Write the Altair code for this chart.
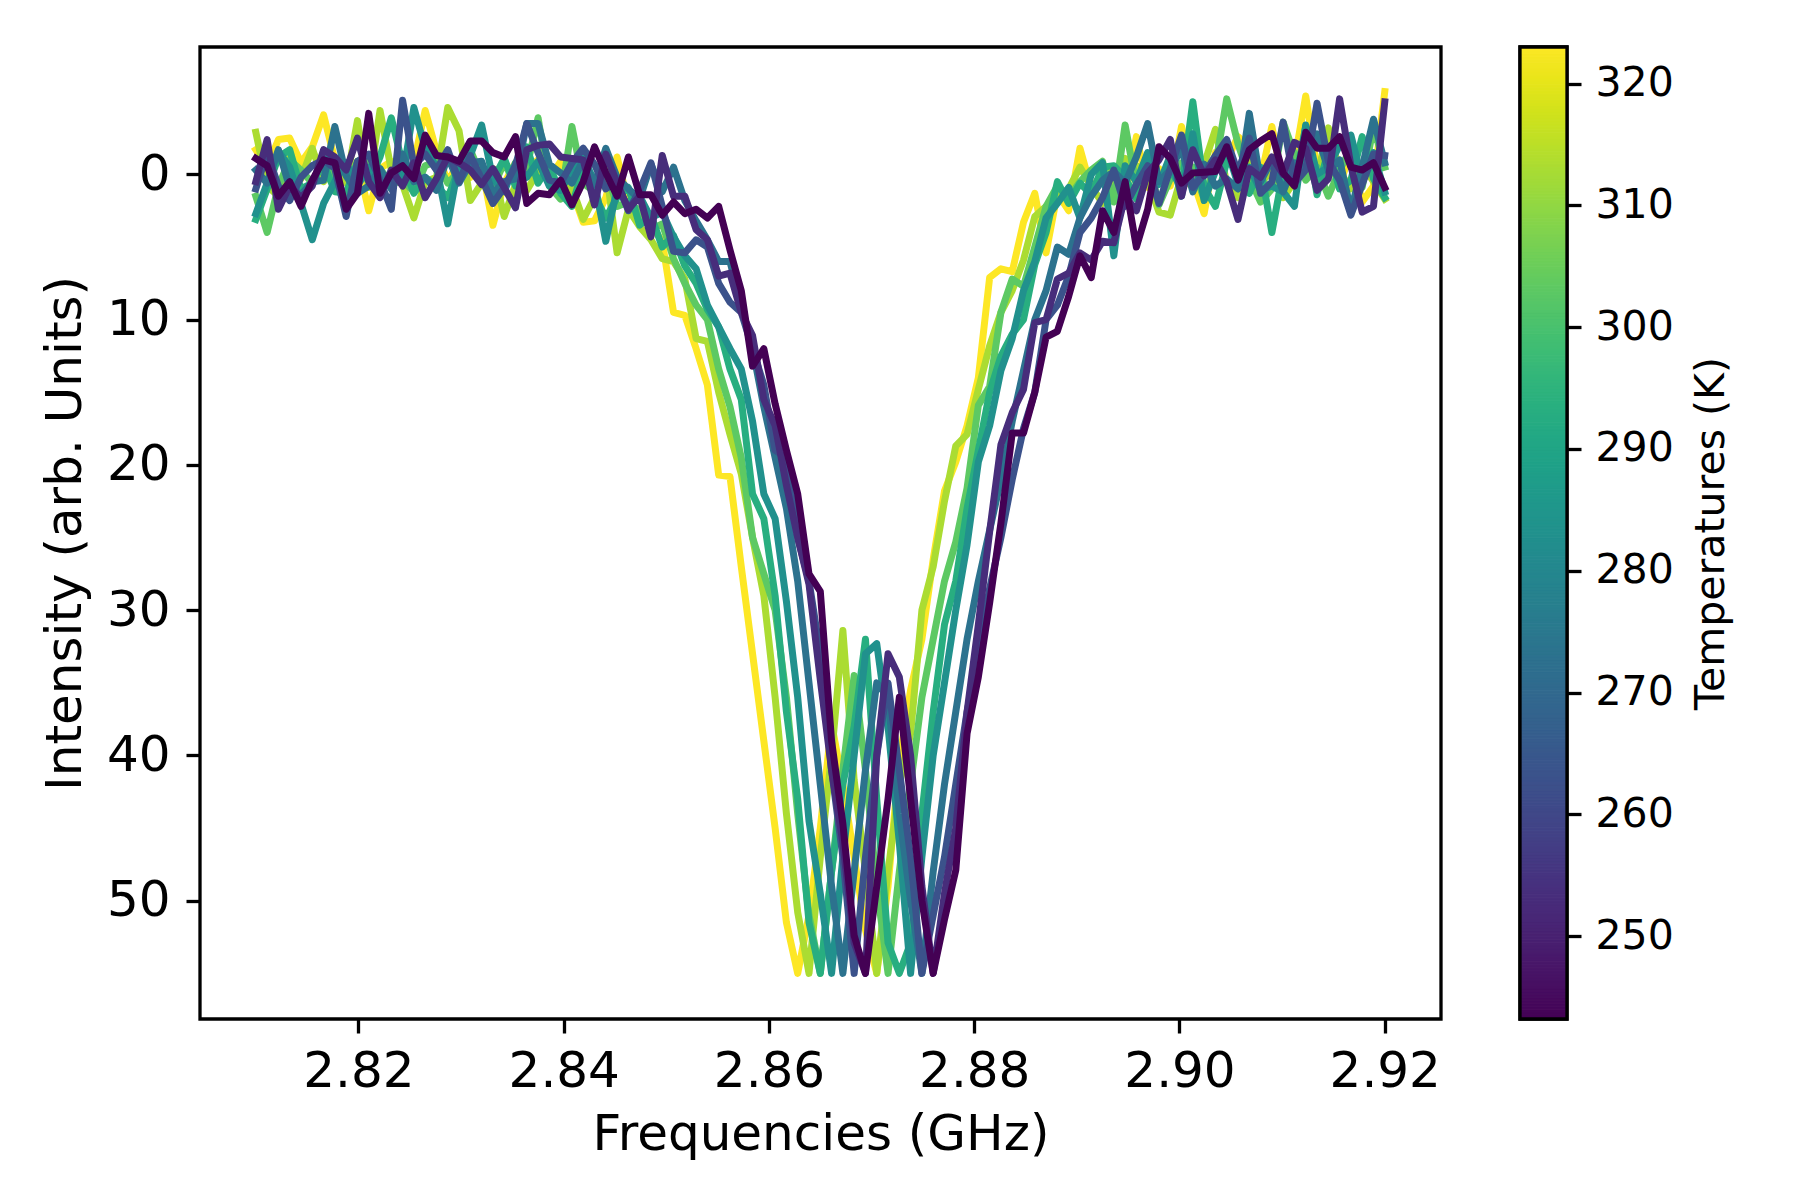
import altair as alt
import pandas as pd

frequencies = [
    2.81, 2.8111, 2.8122, 2.8133, 2.8144, 2.8155, 2.8166, 2.8177, 2.8188, 2.8199,
    2.821, 2.8221, 2.8232, 2.8243, 2.8254, 2.8265, 2.8276, 2.8287, 2.8298, 2.8309,
    2.832, 2.8331, 2.8342, 2.8353, 2.8364, 2.8375, 2.8386, 2.8397, 2.8408, 2.8419,
    2.843, 2.8441, 2.8452, 2.8463, 2.8474, 2.8485, 2.8496, 2.8507, 2.8518, 2.8529,
    2.854, 2.8551, 2.8562, 2.8573, 2.8584, 2.8595, 2.8606, 2.8617, 2.8628, 2.8639,
    2.865, 2.8661, 2.8672, 2.8683, 2.8694, 2.8705, 2.8716, 2.8727, 2.8738, 2.8749,
    2.876, 2.8771, 2.8782, 2.8793, 2.8804, 2.8815, 2.8826, 2.8837, 2.8848, 2.8859,
    2.887, 2.8881, 2.8892, 2.8903, 2.8914, 2.8925, 2.8936, 2.8947, 2.8958, 2.8969,
    2.898, 2.8991, 2.9002, 2.9013, 2.9024, 2.9035, 2.9046, 2.9057, 2.9068, 2.9079,
    2.909, 2.9101, 2.9112, 2.9123, 2.9134, 2.9145, 2.9156, 2.9167, 2.9178, 2.9189,
    2.92,
]

# one trace per temperature, drawn hottest first
t323 = [
    -1.7, -0.5, -2.4, -2.5, -0.8, -1.9, -4.1, -1, 0.5, -0.9,
    2.5, -0.4, -0.9, 0.3, -0.8, -4.4, -1.6, 0.5, -0.9, 0.2,
    -0.6, 3.5, 0.6, -0.8, -0.4, -1, 0.3, -0.9, 1.1, 3.3,
    3.2, 1.6, -1.2, 2, 2.7, 3.5, 4.6, 9.5, 9.7, 12,
    14.5, 20.7, 20.8, 27, 33, 39, 45, 51.5, 55, 51,
    45, 37.8, 42, 47, 52, 55, 49, 40.3, 35.5, 32,
    26.5, 21.8, 19.8, 17.3, 14, 7.1, 6.5, 6.7, 3.3, 1.3,
    5.4, 1.3, 2.5, -1.8, 1, -0.1, -0.5, 1.6, -2.6, 0.9,
    -0.4, 0.8, -3.3, 0.4, 2.7, -1.5, -1, -2.6, -1.9, 0.3,
    -3.3, 0.7, -0.9, -5.4, -0.4, -1, 0.7, -1.5, 1.9, 0.8,
    -5.7,
]
t313 = [
    -2.9, 0.8, 1.5, -1.3, 0.3, -1.8, 0.5, -0.6, 0.6, -3.7,
    0.9, -4.4, -0.3, 0.7, 3, 0.5, 0.2, -4.6, -3, 1.8,
    0.6, -0.4, 2.9, 0.7, 1.1, -0.2, 0.4, 0.8, 0.9, 3.1,
    1.6, -0.5, 5.4, 2.4, 3.6, 4.5, 5.8, 6, 7.2, 11.3,
    11.5, 15, 17.9, 20.6, 25, 29, 36, 44, 50.8, 55,
    47, 40, 31.4, 41.7, 48, 55, 48, 42, 38.5, 30,
    27, 22.5, 18.7, 17.9, 14.8, 11.8, 9.5, 8, 5.9, 2.9,
    2.2, 1.5, 1, -0.5, 0.8, 2, 0.1, -1.1, -0.6, 0.4,
    2.6, 2.8, 0.1, 0.9, -0.7, -3.1, 0.6, 1.6, -1, 0.7,
    -0.4, 1.6, 0.5, -0.6, 0.2, -3.2, -0.2, 1, -0.7, 0.5,
    1.7,
]
t303 = [
    1.5, 4, 0.8, -1, -0.3, 0.6, -1.1, 0.9, 1.6, 0.3,
    -1.1, -0.4, 0.7, 0.4, 1.2, -0.6, -0.9, 0.6, -0.2, -1.7,
    0.2, 0.9, -0.8, 0.7, -0.5, -3.9, 0.8, 1.7, -3.3, 0.6,
    1.2, -0.4, 2.2, 1.9, 2.5, 3.8, 3.4, 5.8, 7.5, 9,
    10, 13.4, 16, 19.5, 25, 27.5, 30, 36, 44, 51,
    55, 48, 41, 34.5, 41, 49, 55, 48, 42, 36,
    32, 28, 25.3, 21.6, 15.9, 14.6, 9.5, 7.2, 7.7, 5,
    2.2, 0.8, 1.6, 0.5, -0.3, -0.9, 1.9, -3.4, 0.8, -1.1,
    2.1, 0.3, -0.8, -0.5, 1.7, -0.6, -5.2, -2.1, 0.2, 1.9,
    1, -3.6, -1.4, 0.4, -0.5, 1.5, -0.3, -1.8, 0.9, -3.3,
    -0.5,
]
t293 = [
    3.1, 1, -1.2, -1.7, 1, 0.6, -0.8, 1.2, 1.3, -0.9,
    0.5, -1.2, -3.9, -0.7, 1.3, 0.2, 0.8, 1.6, -0.4, -1,
    -0.2, 0.4, -1.1, 0.8, -1.9, 0.6, -0.6, 1.3, 2.2, -0.5,
    1.4, 3, 1.6, 0.9, 3.5, 2.8, 5, 4.2, 6.3, 7.5,
    9.3, 10.5, 13.4, 15.5, 22, 23.7, 29, 37, 43, 51.5,
    55, 48, 42, 38, 32, 43, 52.9, 55, 52.9, 44,
    37, 31, 28, 23, 19, 15, 12.5, 11, 10, 6.2,
    4, 0.5, 2, 0.6, 1.4, -0.5, -0.6, 0.2, 1.7, -0.9,
    0.5, -0.3, 0.9, -5, 0.9, 2.2, -0.9, -0.3, 1.3, -0.5,
    4, -0.2, 0.7, -3.3, 1.4, -1.7, 1, 0.4, -2.6, 0.3,
    1.6,
]
t283 = [
    2.7, 0.6, -1.6, -0.5, 2, 4.5, 2, 0.5, -0.8, 0.8,
    -0.5, 1, -0.2, 0.2, -4.6, -1.8, -0.5, 3.4, -0.8, -1.3,
    -3.4, 0.3, 1.2, -0.8, 0.2, -0.9, 0.8, 1.1, -0.3, -1.2,
    0.5, 4.6, 1, 2.2, 1.5, 3, 2.6, 4.3, 5.6, 6.5,
    9, 10.5, 12, 13.4, 17, 22, 23.7, 29.4, 36, 44.5,
    49.5, 55, 47, 40, 33, 32.3, 38, 46, 55, 47,
    40, 35, 30, 25.5, 19.8, 17.3, 13.5, 11.3, 8, 6,
    3, 2, 0.9, 3, 0, -0.8, 5.6, -0.6, 0.5, -1.5,
    0.7, -1.3, 1.5, -2.8, 1.8, -0.2, -1.8, 0.7, -0.5, 1.1,
    0.8, 1.2, 2.2, -3.4, 0, -0.5, -2, -2.7, 0.4, -1.5,
    1.2,
]
t273 = [
    -0.3, 0.6, -1.7, 0.9, 1.4, 0.5, 0.4, -3.3, 0.1, 1.3,
    0.8, -0.4, 1, -1.4, 0.5, 0.2, 1.1, -1.2, 0.6, -0.8,
    -0.9, 1.3, 0.5, 0.3, -3.5, -3.5, -0.7, -0.1, 0.6, -1,
    0.7, -1.8, 0.2, 1, 1.7, -0.7, 1.2, -0.5, 1.8, 3.2,
    4.5, 6, 6, 9, 12, 16, 19.5, 23, 28, 35,
    42, 49, 55, 48, 41, 35, 36, 44, 50, 55,
    48, 42, 37, 32, 28, 24.5, 21, 17, 13.5, 10,
    8, 5, 5.5, 3, 1.5, 0.4, -0.2, 0.6, -1.2, -3.5,
    0.5, -0.3, -1.8, 1.2, -0.7, 0.8, 0.3, 1, -4.2, 0.5,
    -1, 1.2, -0.8, -0.4, -2.8, -0.3, -1, 2.5, -0.5, -3.8,
    -0.8,
]
t263 = [
    1, -1.5, 0.8, 1.8, 0.2, -0.6, -1, -0.4, 2.9, -0.9,
    -1.4, 0.4, 2.4, -5.1, -0.6, -1.4, -0.3, -1.7, 0.5, -1.3,
    0.3, 2, 0.9, -0.6, -3.5, -1.5, 0.4, 0.6, -0.8, -1.8,
    -0.7, 1, 0.5, 2.5, 1.1, -0.8, 2.2, 5.3, 5.4, 4.5,
    5, 7.5, 8.8, 9.5, 12, 14.5, 19, 19.5, 25, 28,
    33, 41, 47, 55, 47, 40, 35, 41, 47, 55,
    51, 47, 42, 37, 33, 28.5, 25, 21, 17.5, 15,
    10, 9, 7, 4, 3, 1.6, -0.3, 2.2, 0.7, -0.6,
    2, -0.4, -2.7, 0.9, 0, -1.3, -2.4, -0.1, -2.5, 1.3,
    0.5, -3.6, 0.6, -0.3, -4.9, -0.9, 0.4, 2.8, 0.7, -1.4,
    -1.3,
]
t253 = [
    0.5, -2.4, 2.4, 0.8, 1.6, 0.8, -1.7, -1.2, -0.3, -2.5,
    0.5, 1.6, -0.3, 0.8, -0.8, 1.6, 0.3, -1.2, -0.8, -0.3,
    0.7, -0.4, 0.9, 2.3, -1.7, -2, -2.1, -1.2, -1.1, -1,
    2.1, -1.4, 0.6, 2.4, 1.5, 4.3, -1.3, 1.5, 1.5, 3.8,
    4.5, 7, 6.8, 9.5, 11.1, 15.5, 17.3, 21.4, 25, 28.2,
    34.8, 41, 46, 52.9, 55, 40, 33, 34.6, 40, 49,
    55, 49.5, 45, 37, 31, 24.6, 18.6, 16.4, 14.8, 10.2,
    10, 7.2, 6.8, 5.4, 5.9, 4.6, 4.7, 1.5, 2.5, -0.1,
    -1, -2.4, 1.5, -1.7, 0.1, -1, 0.5, 3.1, -0.4, 0.2,
    -1.2, 0, -2.2, -1.8, 1.1, 0.3, -5.2, -0.6, 2.6, 2.2,
    -5,
]
t243 = [
    -1.1, -0.6, 1.5, 0.5, 2.2, 0.4, -1, -0.8, 2.4, 1.3,
    -4.2, 1.3, -0.1, -0.6, 0.3, -2.7, -1.3, -1.2, -0.9, -2.3,
    -2.3, -1.5, -1.2, -2.6, 2, 1.3, 1.4, 0.4, 2.1, 0.5,
    -1.9, -0.1, 1.5, -1.2, 1.4, 1.4, 2.8, 1.9, 2.7, 2.4,
    3, 2.2, 5.2, 8, 13.2, 12, 15.8, 19, 22, 27.5,
    28.7, 39, 44.7, 52.4, 55, 49, 43, 36, 43, 50,
    55, 51.3, 47.9, 38.5, 34.6, 29.5, 24, 17.8, 17.8, 15,
    11.2, 10.8, 8.4, 5.6, 7.1, 2.5, 4, 0.5, 5, 2.4,
    -1.9, -1.1, 0.6, -0.1, -0.15, -0.2, -1.9, 0.4, -1.7, -2.3,
    -2.8, -0.1, 0.8, -2.9, -1.8, -1.8, -2.6, -0.5, -0.3, -0.8,
    0.9,
]

traces = {323: t323, 313: t313, 303: t303, 293: t293, 283: t283,
          273: t273, 263: t263, 253: t253, 243: t243}
x_ticks = [2.82, 2.84, 2.86, 2.88, 2.90, 2.92]
y_ticks = [0, 10, 20, 30, 40, 50]
bar_ticks = [250, 260, 270, 280, 290, 300, 310, 320]

rows = []
for temp, values in traces.items():
    for f, v in zip(frequencies, values):
        rows.append({"frequency": f, "intensity": v, "temperature": temp})
df = pd.DataFrame(rows)

color_scale = alt.Scale(scheme="viridis", domain=[243, 323])

lines = alt.Chart(df).mark_line(
    strokeWidth=7, strokeJoin="round", strokeCap="square", clip=True
).encode(
    x=alt.X(
        "frequency:Q",
        scale=alt.Scale(domain=[2.80456, 2.92548], nice=False, zero=False),
        axis=alt.Axis(
            title="Frequencies (GHz)", values=x_ticks, format=".2f",
            labelPadding=13, titlePadding=13,
        ),
    ),
    y=alt.Y(
        "intensity:Q",
        scale=alt.Scale(domain=[-8.77, 58.14], reverse=True, nice=False, zero=False),
        axis=alt.Axis(
            title="Intensity (arb. Units)", values=y_ticks,
            labelPadding=16, titlePadding=16,
        ),
    ),
    color=alt.Color("temperature:Q", scale=color_scale, legend=None),
    detail="temperature:Q",
).properties(width=1241, height=972)

# colour bar as its own panel so that it gets real ticks
bar_df = pd.DataFrame({"level": [243.2 + i * 0.25 for i in range(319)]})
bar_df["top"] = bar_df["level"] + 0.25

ramp = alt.Chart(bar_df).mark_rect(strokeWidth=1, clip=True).encode(
    x=alt.value(0),
    x2=alt.value(47),
    y=alt.Y(
        "level:Q",
        scale=alt.Scale(domain=[243.2, 323], nice=False, zero=False),
        axis=alt.Axis(
            orient="right", title="Temperatures (K)", values=bar_ticks,
            labelFontSize=41, titleFontSize=41, labelPadding=14, titlePadding=18,
            titleAngle=270, titleBaseline="top",
        ),
    ),
    y2="top:Q",
    color=alt.Color("level:Q", scale=color_scale, legend=None),
    stroke=alt.Color("level:Q", scale=color_scale, legend=None),
)

# black outline over the ramp
outline = alt.Chart(pd.DataFrame({"a": [0]})).mark_rect(
    fillOpacity=0, stroke="black", strokeWidth=3.3
).encode(
    x=alt.value(0), x2=alt.value(47), y=alt.value(0), y2=alt.value(972)
)

colorbar = (ramp + outline).properties(width=47, height=972)

chart = alt.hconcat(lines, colorbar, spacing=73).properties(
    padding={"left": 30, "top": 35, "right": 5, "bottom": 5},
    background="white",
).configure_view(
    stroke="black", strokeWidth=3.3
).configure_axis(
    grid=False, domain=False,
    tickColor="black", tickSize=14, tickWidth=3.3,
    labelColor="black", titleColor="black",
    labelFont="DejaVu Sans", titleFont="DejaVu Sans",
    labelFontSize=50, titleFontSize=50,
    labelFontWeight="normal", titleFontWeight="normal",
)

chart.save("out.html", embed_options={"renderer": "svg", "actions": False})
